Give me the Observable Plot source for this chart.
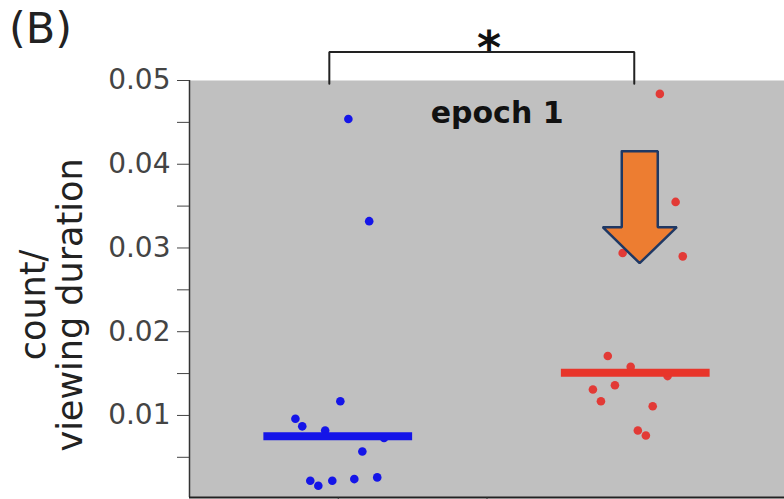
<!DOCTYPE html>
<html>
<head>
<meta charset="utf-8">
<script src="https://cdn.jsdelivr.net/npm/d3@7"></script>
<script src="https://cdn.jsdelivr.net/npm/@observablehq/plot@0.6"></script>
<style>
  html, body { margin: 0; padding: 0; background: #ffffff; }
  #wrap { position: relative; width: 784px; height: 499px; overflow: hidden; }
  #panel { position: absolute; left: 9px; top: 3px; font-family: "DejaVu Sans", sans-serif; font-size: 43px; line-height: 1.2; color: #222; }
  #chart { position: absolute; left: 0; top: 0; }
</style>
</head>
<body>
<div id="wrap">
  <div id="chart"></div>
  <div id="panel">(B)</div>
</div>
<script>
// ---- data ----
const blueX = [1.034, 1.104, 1.007, 0.856, 0.879, 0.956, 1.154, 1.081, 0.906, 0.933, 0.980, 1.054, 1.131];
const blueY = [0.0454, 0.0332, 0.0117, 0.0096, 0.0087, 0.0082, 0.0073, 0.0057, 0.0022, 0.0016, 0.0022, 0.0024, 0.0026];
const redX  = [2.081, 2.134, 1.956, 2.158, 1.906, 1.983, 2.107, 1.856, 1.930, 1.883, 2.057, 2.007, 2.034];
const redY  = [0.0484, 0.0355, 0.0294, 0.0290, 0.0171, 0.0158, 0.0147, 0.0131, 0.0136, 0.0117, 0.0111, 0.0082, 0.0076];
const groupCenters = [1, 2];
const medianValues = [0.0075, 0.0151];
const majorTicks = [0.01, 0.02, 0.03, 0.04, 0.05];
const minorTicks = [0.005, 0.015, 0.025, 0.035, 0.045];
const xTicks = [1, 1.5];
const bracketX = [0.97, 0.97, 1.995, 1.995];
const bracketY = [0.0496, 0.0534, 0.0534, 0.0496];
const arrowX = [1.953, 1.953, 1.889, 2.013, 2.138, 2.074, 2.074, 1.953];
const arrowY = [0.04155, 0.03248, 0.03248, 0.02818, 0.03248, 0.03248, 0.04155, 0.04155];
const starPos = {x: 1.507, y: 0.0537};
const titleText = "epoch 1";
const titlePos = {x: 1.534, y: 0.0461};
const yLabelLines = ["count/", "viewing duration"];

const blue = blueX.map((x, i) => ({x, y: blueY[i]}));
const red = redX.map((x, i) => ({x, y: redY[i]}));
const medians = groupCenters.map((c, i) => ({c, v: medianValues[i]}));
const bracket = bracketX.map((x, i) => ({x, y: bracketY[i]}));
const arrow = arrowX.map((x, i) => ({x, y: arrowY[i]}));

const font = "DejaVu Sans, sans-serif";
const noLabel = () => "";

const chart = Plot.plot({
  width: 784,
  height: 499,
  marginLeft: 189,
  marginRight: 0,
  marginTop: 80,
  marginBottom: 2,
  style: {fontFamily: font, background: "transparent", overflow: "visible"},
  x: {type: "linear", domain: [0.5, 2.5], axis: null},
  y: {type: "linear", domain: [0.0002, 0.05], axis: null},
  marks: [
    Plot.frame({fill: "#c0c0c0", stroke: null}),
    Plot.ruleX([0.5], {y1: 0.0002, y2: 0.05, stroke: "#333", strokeWidth: 1.5}),
    Plot.ruleY([0.0002], {stroke: "#222", strokeWidth: 2}),
    Plot.axisY(majorTicks, {tickSize: 12, tickPadding: 7, fontSize: 28, color: "#444", stroke: "#444", label: null, tickFormat: d => d.toFixed(2)}),
    Plot.axisY(minorTicks, {tickSize: 12, tickFormat: noLabel, label: null, stroke: "#444"}),
    Plot.axisX(xTicks, {tickSize: 4, tickFormat: noLabel, label: null, stroke: "#333"}),
    Plot.dot(blue, {x: "x", y: "y", r: 4.3, fill: "#1515e8", stroke: null}),
    Plot.dot(red, {x: "x", y: "y", r: 4.3, fill: "#e23a36", stroke: null}),
    Plot.ruleY(medians.slice(0, 1), {y: "v", x1: d => d.c - 0.25, x2: d => d.c + 0.25, stroke: "#1515e8", strokeWidth: 8}),
    Plot.ruleY(medians.slice(1), {y: "v", x1: d => d.c - 0.25, x2: d => d.c + 0.25, stroke: "#e8352a", strokeWidth: 8}),
    Plot.line(arrow, {x: "x", y: "y", fill: "#ed7d31", stroke: "#1f3864", strokeWidth: 2.5, strokeLinejoin: "miter", curve: "linear"}),
    Plot.line(bracket, {x: "x", y: "y", stroke: "#222", strokeWidth: 2, strokeLinejoin: "miter"}),
    Plot.text([starPos], {x: "x", y: "y", text: () => "*", fontSize: 46, fontWeight: "bold", fill: "#111"}),
    Plot.text([titlePos], {x: "x", y: "y", text: () => titleText, fontSize: 30, fontWeight: "bold", fill: "#111"}),
    Plot.text([yLabelLines[0]], {frameAnchor: "left", dx: -156, dy: 16, rotate: -90, fontSize: 35, fill: "#222", textAnchor: "middle"}),
    Plot.text([yLabelLines[1]], {frameAnchor: "left", dx: -119, dy: 16, rotate: -90, fontSize: 35, fill: "#222", textAnchor: "middle"})
  ]
});
document.getElementById("chart").appendChild(chart);
</script>
</body>
</html>
